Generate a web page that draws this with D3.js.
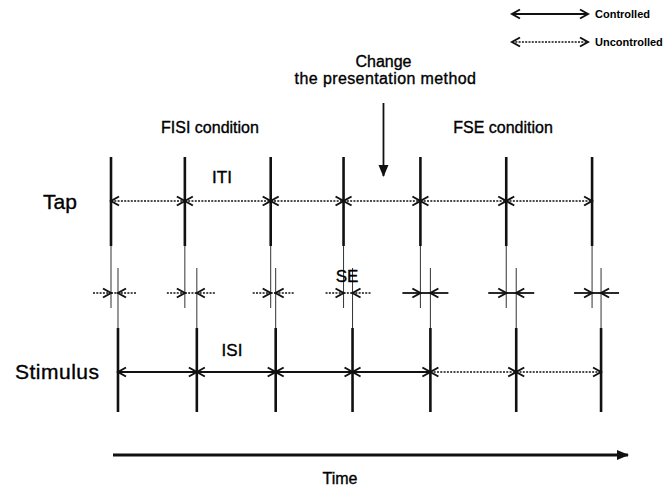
<!DOCTYPE html>
<html>
<head>
<meta charset="utf-8">
<script src="https://cdn.jsdelivr.net/npm/d3@7/dist/d3.min.js"></script>
<style>
  body { margin: 0; background: #fff; }
  svg text { font-family: "Liberation Sans", Arial, sans-serif; fill: #000; stroke: #000; stroke-width: 0.35px; }
</style>
</head>
<body>
<div id="chart"></div>
<script>
// width and height of the figure
var width = 667;
var height = 490;

// event times (arbitrary units)
var tapTimes  = [0, 74, 160, 233, 310, 396, 482];
var stimTimes = [7, 86, 165, 242, 320, 406, 491];
// condition of each tap/stimulus pair
var conditions = ["FISI", "FISI", "FISI", "FISI", "FSE", "FSE", "FSE"];
var changeTime = 273;      // when the presentation method changes
var timeEnd = 522;         // end of the time axis

var rowLabels = ["Tap", "Stimulus"];
var legendText = ["Controlled", "Uncontrolled"];
var conditionText = ["FISI condition", "FSE condition"];

// time scale
var x = d3.scaleLinear().domain([0, timeEnd]).range([111, 632]);

// rows (vertical positions)
var y = { iti: 201, se: 293, isi: 372 };

var svg = d3.select("#chart").append("svg")
    .attr("width", width)
    .attr("height", height);

// arrow heads
var defs = svg.append("defs");
defs.append("marker")
    .attr("id", "head")
    .attr("markerUnits", "userSpaceOnUse")
    .attr("viewBox", "-10 -6 12 12")
    .attr("refX", 0).attr("refY", 0)
    .attr("markerWidth", 12).attr("markerHeight", 12)
    .attr("orient", "auto-start-reverse")
  .append("path")
    .attr("d", "M-8,-4.5L0,0L-8,4.5")
    .style("fill", "none")
    .style("stroke", "#111")
    .style("stroke-width", 2);
defs.append("marker")
    .attr("id", "bighead")
    .attr("markerUnits", "userSpaceOnUse")
    .attr("viewBox", "-12 -7 14 14")
    .attr("refX", 0).attr("refY", 0)
    .attr("markerWidth", 14).attr("markerHeight", 14)
    .attr("orient", "auto")
  .append("path")
    .attr("d", "M-11,-5L1,0L-11,5Z")
    .style("fill", "#111");

function styleLine(sel, controlled) {
  sel.style("stroke", "#111")
     .style("stroke-width", controlled ? 1.8 : 1.6)
     .style("stroke-dasharray", controlled ? null : "2,1.3");
}

// arrow from a to b (both ends optional)
function arrow(x1, x2, yy, controlled, startHead, endHead) {
  var l = svg.append("line")
      .attr("x1", x1).attr("x2", x2)
      .attr("y1", yy).attr("y2", yy)
      .call(styleLine, controlled);
  if (startHead) l.attr("marker-start", "url(#head)");
  if (endHead) l.attr("marker-end", "url(#head)");
  return l;
}

// tap lines: thick top, thin continuation down to the SE row
svg.selectAll(".tapThick").data(tapTimes).enter().append("line")
    .attr("x1", d => x(d)).attr("x2", d => x(d))
    .attr("y1", 157).attr("y2", 246)
    .style("stroke", "#111").style("stroke-width", 2.6);
svg.selectAll(".tapThin").data(tapTimes).enter().append("line")
    .attr("x1", d => x(d)).attr("x2", d => x(d))
    .attr("y1", 246).attr("y2", 308)
    .style("stroke", "#333").style("stroke-width", 1);

// stimulus lines: thin from SE row, thick bottom
svg.selectAll(".stimThin").data(stimTimes).enter().append("line")
    .attr("x1", d => x(d)).attr("x2", d => x(d))
    .attr("y1", 268).attr("y2", 328)
    .style("stroke", "#333").style("stroke-width", 1);
svg.selectAll(".stimThick").data(stimTimes).enter().append("line")
    .attr("x1", d => x(d)).attr("x2", d => x(d))
    .attr("y1", 328).attr("y2", 412)
    .style("stroke", "#111").style("stroke-width", 2.6);

// ITI arrows (never controlled)
d3.pairs(tapTimes).forEach(function(p) {
  arrow(x(p[0]), x(p[1]), y.iti, false, true, true);
});

// ISI arrows (controlled in FISI condition)
d3.pairs(stimTimes).forEach(function(p, i) {
  arrow(x(p[0]), x(p[1]), y.isi, conditions[i] == "FISI", true, true);
});

// SE arrows (controlled in FSE condition)
tapTimes.forEach(function(t, i) {
  var ctrl = conditions[i] == "FSE";
  var a = x(t), b = x(stimTimes[i]);
  arrow(a - 18, a, y.se, ctrl, false, true);
  arrow(b + 18, b, y.se, ctrl, false, true);
  svg.append("line")
      .attr("x1", a).attr("x2", b)
      .attr("y1", y.se).attr("y2", y.se)
      .call(styleLine, ctrl);
});

// change of presentation method
var cx = x(changeTime);
svg.append("line")
    .attr("x1", cx).attr("x2", cx)
    .attr("y1", 103).attr("y2", 176)
    .style("stroke", "#111").style("stroke-width", 1.8)
    .attr("marker-end", "url(#bighead)");
svg.append("text")
    .attr("x", cx).attr("y", 67)
    .attr("text-anchor", "middle")
    .style("font-size", "16px")
    .text("Change");
svg.append("text")
    .attr("x", cx + 2).attr("y", 84)
    .attr("text-anchor", "middle")
    .style("font-size", "16px")
    .style("letter-spacing", "0.4px")
    .text("the presentation method");

// condition labels
svg.append("text")
    .attr("x", 210).attr("y", 133)
    .attr("text-anchor", "middle")
    .style("font-size", "16px")
    .text(conditionText[0]);
svg.append("text")
    .attr("x", 503).attr("y", 133)
    .attr("text-anchor", "middle")
    .style("font-size", "16px")
    .text(conditionText[1]);

// row labels
svg.append("text").attr("x", 43).attr("y", 209)
    .style("font-size", "21px").text(rowLabels[0]);
svg.append("text").attr("x", 15).attr("y", 379)
    .style("font-size", "21px").style("letter-spacing", "0.5px").text(rowLabels[1]);

// interval labels
svg.append("text").attr("x", 222).attr("y", 183)
    .attr("text-anchor", "middle").style("font-size", "17px").text("ITI");
svg.append("text").attr("x", 232).attr("y", 356)
    .attr("text-anchor", "middle").style("font-size", "17px").text("ISI");
svg.append("text").attr("x", 347).attr("y", 282)
    .attr("text-anchor", "middle").style("font-size", "17px").text("SE");

// time axis
svg.append("line")
    .attr("x1", x(0) + 2).attr("x2", x(timeEnd) - 4)
    .attr("y1", 455).attr("y2", 455)
    .style("stroke", "#111").style("stroke-width", 3)
    .attr("marker-end", "url(#bighead)");
svg.append("text")
    .attr("x", 340).attr("y", 484)
    .attr("text-anchor", "middle")
    .style("font-size", "16px")
    .text("Time");

// legend
var legend = svg.selectAll(".legend")
    .data(legendText)
    .enter().append("g")
    .attr("transform", function(d, i) { return "translate(0," + (14 + i * 28) + ")"; });
legend.each(function(d, i) {
  var g = d3.select(this);
  g.append("line")
      .attr("x1", 512).attr("x2", 588)
      .attr("y1", 0).attr("y2", 0)
      .call(styleLine, i == 0)
      .attr("marker-start", "url(#head)")
      .attr("marker-end", "url(#head)");
  g.append("text")
      .attr("x", 595).attr("y", 4)
      .style("font-size", "11px")
      .style("font-weight", "bold")
      .style("stroke-width", "0px")
      .text(d);
});
</script>
</body>
</html>
